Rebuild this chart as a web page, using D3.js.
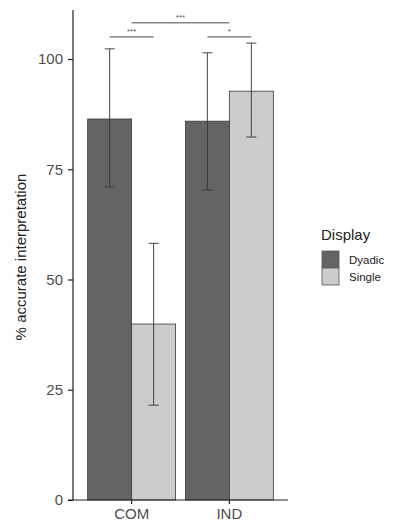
<!DOCTYPE html>
<html>
<head>
<meta charset="utf-8">
<script src="https://cdn.jsdelivr.net/npm/d3@7"></script>
<style>
  body { margin: 0; background: #fff; }
  text { font-family: Arial, "Liberation Sans", sans-serif; }
</style>
</head>
<body>
<div id="chart"></div>
<script>
// Data
const categories = ['COM', 'IND'];
const groups = ['Dyadic', 'Single'];
const means = { Dyadic: [86.4, 85.9], Single: [39.9, 92.7] };
const lower = { Dyadic: [71.0, 70.3], Single: [21.5, 82.3] };
const upper = { Dyadic: [102.3, 101.4], Single: [58.2, 103.6] };
const yTicks = [0, 25, 50, 75, 100];
const colors = { Dyadic: '#646464', Single: '#cccccc' };

// significance brackets (group null = category centre)
const sigs = [
  { from: ['COM', 'Dyadic'], to: ['COM', 'Single'], y: 105.0, label: '***' },
  { from: ['IND', 'Dyadic'], to: ['IND', 'Single'], y: 105.0, label: '*' },
  { from: ['COM', null], to: ['IND', null], y: 108.2, label: '***' }
];

const width = 395, height = 527;
const margin = { top: 10, right: 107, bottom: 27, left: 73 };

const svg = d3.select('#chart').append('svg')
  .attr('width', width)
  .attr('height', height);

const x = d3.scaleBand()
  .domain(categories)
  .range([margin.left, width - margin.right])
  .paddingInner(0.1)
  .paddingOuter(0.15);

const xSub = d3.scaleBand()
  .domain(groups)
  .range([0, x.bandwidth()]);

const y = d3.scaleLinear()
  .domain([0, 100])
  .range([500, 59]);

function xPos(cat, group) {
  if (group === null) return x(cat) + x.bandwidth() / 2;
  return x(cat) + xSub(group) + xSub.bandwidth() / 2;
}

// bars
const rows = [];
categories.forEach((c, i) => {
  groups.forEach(g => {
    rows.push({ cat: c, group: g, mean: means[g][i], lo: lower[g][i], hi: upper[g][i] });
  });
});

const bars = svg.append('g');
bars.selectAll('rect')
  .data(rows)
  .enter()
  .append('rect')
  .attr('x', d => x(d.cat) + xSub(d.group))
  .attr('y', d => y(d.mean))
  .attr('width', xSub.bandwidth())
  .attr('height', d => y(0) - y(d.mean))
  .attr('fill', d => colors[d.group])
  .attr('stroke', '#3a3a3a')
  .attr('stroke-width', 0.8);

// error bars
const errs = svg.append('g')
  .attr('stroke', '#333')
  .attr('stroke-width', 0.9);
rows.forEach(d => {
  const cx = xPos(d.cat, d.group);
  errs.append('line')
    .attr('x1', cx).attr('x2', cx)
    .attr('y1', y(d.lo)).attr('y2', y(d.hi));
  [d.lo, d.hi].forEach(v => {
    errs.append('line')
      .attr('x1', cx - 5).attr('x2', cx + 5)
      .attr('y1', y(v)).attr('y2', y(v));
  });
});

// significance lines
const sigG = svg.append('g');
sigs.forEach(s => {
  const x1 = xPos(s.from[0], s.from[1]);
  const x2 = xPos(s.to[0], s.to[1]);
  sigG.append('line')
    .attr('x1', x1).attr('x2', x2)
    .attr('y1', y(s.y)).attr('y2', y(s.y))
    .attr('stroke', '#333')
    .attr('stroke-width', 0.9);
  sigG.append('text')
    .attr('x', (x1 + x2) / 2)
    .attr('y', y(s.y) - 3)
    .attr('text-anchor', 'middle')
    .attr('font-size', 8)
    .attr('fill', '#555')
    .text(s.label);
});

// axes
const yAxis = svg.append('g')
  .attr('transform', `translate(${margin.left},0)`)
  .call(d3.axisLeft(y).tickValues(yTicks).tickSize(5).tickPadding(5));
yAxis.select('.domain').attr('d', `M0,${y(0)}V${margin.top}`).attr('stroke', '#222').attr('stroke-width', 1.2);
yAxis.selectAll('.tick line').attr('stroke', '#222').attr('stroke-width', 1.2);
yAxis.selectAll('.tick text').attr('font-size', 15).attr('fill', '#4d4d4d');

const xAxis = svg.append('g')
  .attr('transform', `translate(0,${y(0)})`)
  .call(d3.axisBottom(x).tickSize(4).tickPadding(4));
xAxis.select('.domain').attr('d', `M${margin.left - 5},0H${width - margin.right}`).attr('stroke', '#222').attr('stroke-width', 1.2);
xAxis.selectAll('.tick line').attr('stroke', '#222').attr('stroke-width', 1.2);
xAxis.selectAll('.tick text').attr('font-size', 15).attr('fill', '#4d4d4d');

// y label
svg.append('text')
  .attr('transform', `translate(26,257) rotate(-90)`)
  .attr('text-anchor', 'middle')
  .attr('font-size', 15)
  .attr('fill', '#222')
  .text('% accurate interpretation');

// legend
const legend = svg.append('g')
  .attr('transform', 'translate(321,232)');
legend.append('text')
  .attr('x', 0)
  .attr('y', 8)
  .attr('font-size', 15)
  .attr('fill', '#222')
  .text('Display');
const items = legend.selectAll('.legend-item')
  .data(groups)
  .enter()
  .append('g')
  .attr('class', 'legend-item')
  .attr('transform', (d, i) => `translate(1, ${19 + i * 17})`);
items.append('rect')
  .attr('width', 17)
  .attr('height', 17)
  .attr('fill', d => colors[d])
  .attr('stroke', '#555')
  .attr('stroke-width', 0.8);
items.append('text')
  .attr('x', 27)
  .attr('y', 13)
  .attr('font-size', 11.5)
  .attr('fill', '#222')
  .text(d => d);
</script>
</body>
</html>
